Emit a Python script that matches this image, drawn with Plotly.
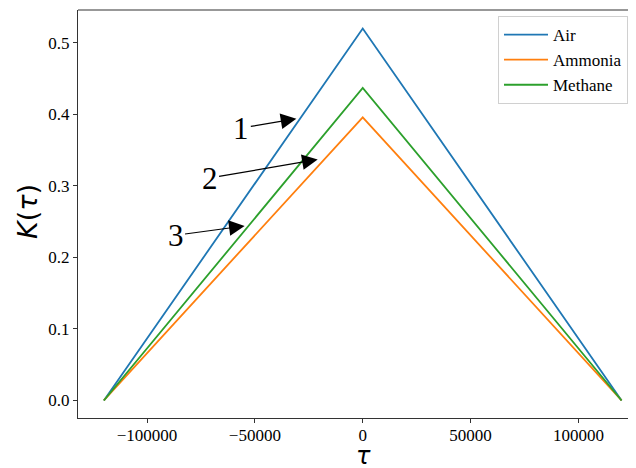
import plotly.graph_objects as go

tau = [-120000, 0, 120000]
air = [0.0, 0.520, 0.0]
ammonia = [0.0, 0.396, 0.0]
methane = [0.0, 0.437, 0.0]

series_names = ["Air", "Ammonia", "Methane"]
series_values = [air, ammonia, methane]
colors = ["#1f77b4", "#ff7f0e", "#2ca02c"]

x_ticks = [-100000, -50000, 0, 50000, 100000]
x_tick_labels = ["\u2212100000", "\u221250000", "0", "50000", "100000"]
y_ticks = [0.0, 0.1, 0.2, 0.3, 0.4, 0.5]
y_tick_labels = ["0.0", "0.1", "0.2", "0.3", "0.4", "0.5"]

# annotation labels: (label, arrow tip x, tip y, text x, text y)
labels = [
    ("1", -30770, 0.394, -56290, 0.381),
    ("2", -20880, 0.337, -71000, 0.311),
    ("3", -54760, 0.244, -86770, 0.231),
]

fig = go.Figure()
for name, vals, c in zip(series_names, series_values, colors):
    fig.add_trace(go.Scatter(x=tau, y=vals, mode="lines", name=name,
                             line=dict(color=c, width=1.8)))

serif = "Liberation Serif, Times New Roman, serif"

for lab, x, y, ax, ay in labels:
    fig.add_annotation(x=x, y=y, ax=ax, ay=ay, xref="x", yref="y",
                       axref="x", ayref="y", text=lab, showarrow=True,
                       arrowhead=2, arrowsize=2.6, arrowwidth=1.2,
                       arrowcolor="black", standoff=0, startstandoff=0,
                       font=dict(family=serif, size=31, color="black"))

# page offset (body margin) and plot-area geometry in figure pixels
OFF = 8
L, T, B = 70, 2, 58
FW, FH = 636, 468
W, H = FW - L, FH - T - B


def px_to_paper(sx, sy):
    fx, fy = sx - OFF, sy - OFF
    return (fx - L) / W, (T + H - fy) / H


yx, yy = px_to_paper(27, 212)
fig.add_annotation(x=yx, y=yy, xref="paper", yref="paper", text="<i>K</i>(<i>\u03c4</i>)",
                   showarrow=False, textangle=-90, xanchor="center", yanchor="middle",
                   font=dict(family="DejaVu Sans", size=27, color="black"))
tx, ty = px_to_paper(363, 456)
fig.add_annotation(x=tx, y=ty, xref="paper", yref="paper", text="<i>\u03c4</i>",
                   showarrow=False, xanchor="center", yanchor="middle",
                   font=dict(family="DejaVu Sans", size=24, color="black"))

fig.add_shape(type="line", xref="paper", yref="paper", x0=0, x1=1, y0=1, y1=1,
              line=dict(color="#333333", width=1.2))

lx, ly = px_to_paper(498, 16)

fig.update_layout(
    width=FW, height=FH,
    margin=dict(l=L, r=0, t=T, b=B, autoexpand=False),
    paper_bgcolor="white", plot_bgcolor="white",
    font=dict(family=serif, size=16, color="black"),
    showlegend=True,
    legend=dict(x=lx, y=ly, xanchor="left", yanchor="top",
                bgcolor="rgba(255,255,255,0.85)", bordercolor="#d0d0d0",
                borderwidth=1, font=dict(family=serif, size=17),
                itemwidth=44, tracegroupgap=0),
    xaxis=dict(range=[-132000, 130400], tickvals=x_ticks, ticktext=x_tick_labels,
               showgrid=False, zeroline=False, showline=True, linecolor="#333333",
               linewidth=1.2, ticks="outside", ticklen=4, tickcolor="#333333",
               tickfont=dict(family=serif, size=17), automargin=False,
               ticklabelstandoff=-3),
    yaxis=dict(range=[-0.0245, 0.546], tickvals=y_ticks, ticktext=y_tick_labels,
               showgrid=False, zeroline=False, showline=True, linecolor="#333333",
               linewidth=1.2, ticks="outside", ticklen=4, tickcolor="#333333",
               tickfont=dict(family=serif, size=17), automargin=False),
)

fig.write_html("out.html")
